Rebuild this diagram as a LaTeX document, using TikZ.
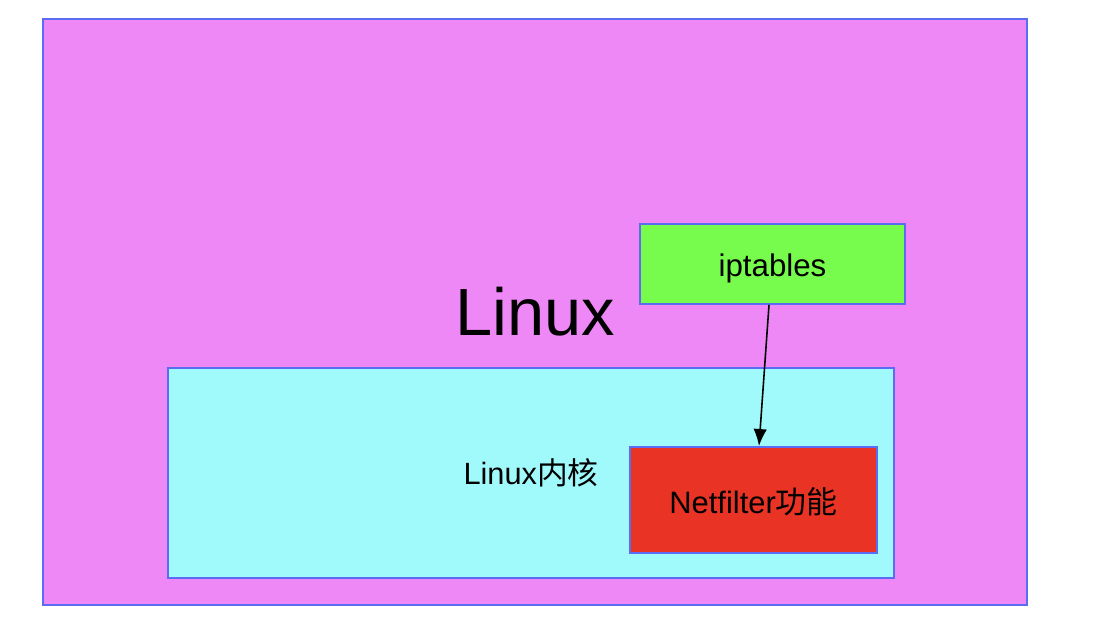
\documentclass[tikz,border=0pt]{standalone}
\usepackage{fontspec}
\setmainfont{Liberation Sans}
\newfontfamily\cjk{Noto Sans CJK SC}
\usetikzlibrary{positioning, arrows.meta}

\definecolor{linuxpink}{HTML}{EE88F6}
\definecolor{kernelcyan}{HTML}{A0FAFB}
\definecolor{iptgreen}{HTML}{77FB4C}
\definecolor{nfred}{HTML}{E93324}
\definecolor{edgeblue}{HTML}{5B6CF2}

\tikzset{
  box/.style = {draw = edgeblue, line width = 1.1pt, rectangle, inner sep = 0pt},
}

\begin{document}
\begin{tikzpicture}[x = 0.02cm, y = -0.02cm]
		\useasboundingbox (0,0) rectangle (1102,642);
		\node[box, fill = linuxpink, minimum width = 19.68cm, minimum height = 11.72cm,
		      font = \fontsize{38}{40}\selectfont] (linux) at (535,312) {Linux};
		\node[box, fill = kernelcyan, minimum width = 14.52cm, minimum height = 4.2cm,
		      font = \fontsize{17.5}{20}\selectfont] (kernel) at (531,473) {Linux{\cjk 内核}};
		\node[box, fill = iptgreen, minimum width = 5.3cm, minimum height = 1.6cm,
		      font = \fontsize{17.8}{20}\selectfont] (ipt) at (772.5,264)
		      {\raisebox{-2.3pt}[\height][\depth]{iptables}};
		\node[box, fill = nfred, minimum width = 4.94cm, minimum height = 2.12cm,
		      font = \fontsize{17.6}{20}\selectfont] (nf) at (753.5,500)
		      {\raisebox{-1.1pt}[\height][\depth]{Netfilter{\cjk 功能}}};
		\draw[-{Latex[length = 0.34cm, width = 0.27cm]}, line width = 0.9pt]
		    ([xshift = -0.07cm]ipt.south) -- ([xshift = 0.11cm]nf.north);
	\end{tikzpicture}
\end{document}
